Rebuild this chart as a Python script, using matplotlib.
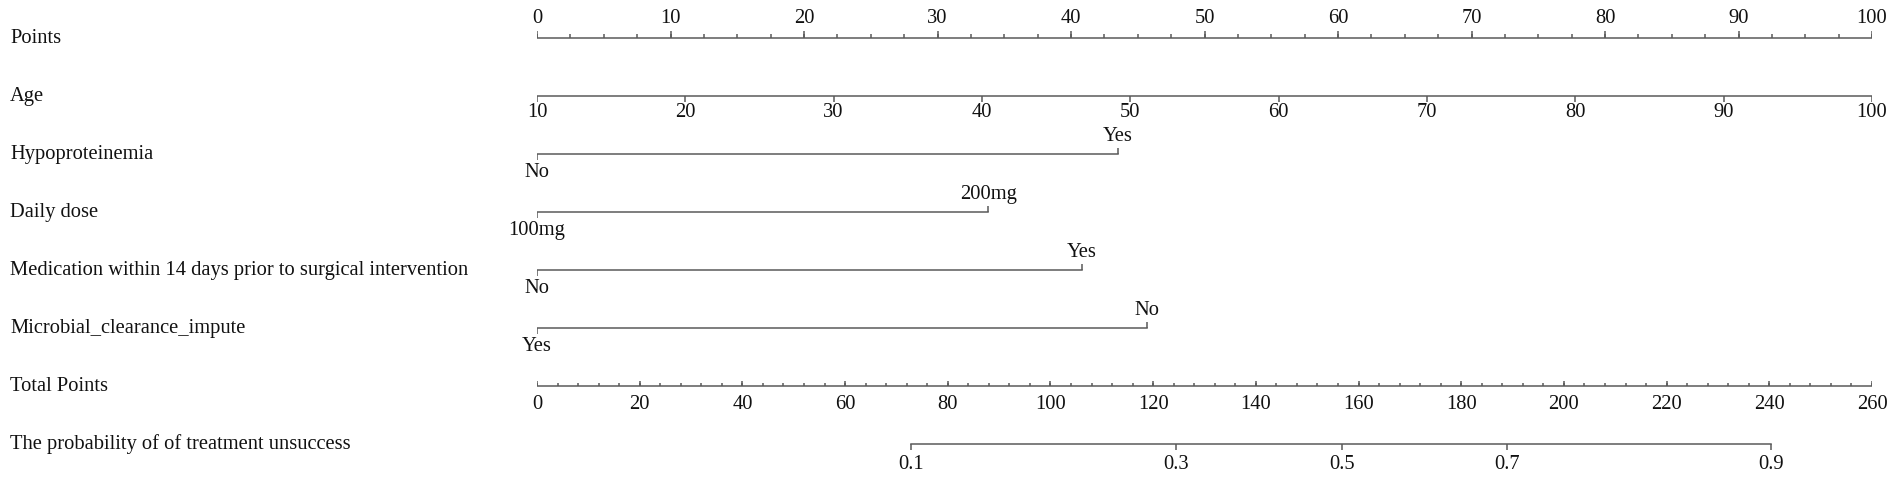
import numpy as np
import matplotlib
matplotlib.use("Agg")
import matplotlib.pyplot as plt
from matplotlib.transforms import blended_transform_factory

# ---- data ----
row_names = ["Points", "Age", "Hypoproteinemia", "Daily dose",
             "Medication within 14 days prior to surgical intervention",
             "Microbial_clearance_impute", "Total Points",
             "The probability of of treatment unsuccess"]

points_major = np.arange(0, 101, 10)
points_minor = np.arange(0, 100.1, 2.5)

age_values = [10, 20, 30, 40, 50, 60, 70, 80, 90, 100]
age_min, age_max = 10, 100

hypo_levels = ["No", "Yes"]
hypo_points = [0, 43.5]
dose_levels = ["100mg", "200mg"]
dose_points = [0, 33.8]
med_levels = ["No", "Yes"]
med_points = [0, 40.8]
micro_levels = ["Yes", "No"]
micro_points = [0, 45.7]

total_major = np.arange(0, 261, 20)
total_minor = np.arange(0, 260.1, 4)
total_max = 260

prob_labels = ["0.1", "0.3", "0.5", "0.7", "0.9"]
prob_total_points = [72.9, 124.4, 156.7, 189.0, 240.3]

# ---- style ----
plt.rcParams['font.family'] = ['Liberation Serif', 'DejaVu Serif']
FS = 14.8
LINE = "#5a5a5a"
TXT = "#111111"
LW = 1.1

W, H = 1901, 479
fig = plt.figure(figsize=(W / 100, H / 100), dpi=100)
x0, x1 = 537, 1872
ax = fig.add_axes([x0 / W, 0, (x1 - x0) / W, 1])
ax.set_xlim(0, 100)
row_px = 58.0
top_px = 37.5
ax.set_ylim((H - top_px) / row_px, -top_px / row_px)
ax.axis("off")

def px(n):
    return n / row_px

def tick(x, row, length, up):
    y2 = row - px(length) if up else row + px(length)
    ax.plot([x, x], [row, y2], color=LINE, lw=LW, solid_capstyle="butt")

def label(x, row, s, up, off=12.5):
    ax.annotate(s, xy=(x, row), xytext=(0, off if up else -off),
                textcoords="offset points", ha="center", va="center",
                fontsize=FS, color=TXT)

# row names on the left
lt = blended_transform_factory(fig.transFigure, ax.transData)
for i, name in enumerate(row_names):
    ax.text(10 / W, i + px(1), name, transform=lt, ha="left", va="center",
            fontsize=FS, color=TXT)

# Points
r = 0
ax.plot([0, 100], [r, r], color=LINE, lw=LW)
for v in points_minor:
    tick(v, r, 4, True)
for v in points_major:
    tick(v, r, 7, True)
    label(v, r, str(v), True, 13.5)

# Age
r = 1
ax.plot([0, 100], [r, r], color=LINE, lw=LW)
for a in age_values:
    p = (a - age_min) / (age_max - age_min) * 100
    tick(p, r, 6, False)
    label(p, r, str(a), False)

# categorical rows
for r, levels, pts in [(2, hypo_levels, hypo_points),
                       (3, dose_levels, dose_points),
                       (4, med_levels, med_points),
                       (5, micro_levels, micro_points)]:
    ax.plot([min(pts), max(pts)], [r, r], color=LINE, lw=LW)
    tick(pts[0], r, 6, False)
    label(pts[0], r, levels[0], False, 14)
    tick(pts[1], r, 6, True)
    label(pts[1], r, levels[1], True, 12)

# Total points
r = 6
ax.plot([0, 100], [r, r], color=LINE, lw=LW)
for v in total_minor:
    tick(v / total_max * 100, r, 3, True)
for v in total_major:
    tick(v / total_max * 100, r, 5, True)
    label(v / total_max * 100, r, str(v), False, 14)

# Probability
r = 7
tp = np.array(prob_total_points) / total_max * 100
ax.plot([tp.min(), tp.max()], [r, r], color=LINE, lw=LW)
for x, s in zip(tp, prob_labels):
    tick(x, r, 6, False)
    label(x, r, s, False, 15)

fig.savefig("out.png", dpi=100, facecolor="white")
